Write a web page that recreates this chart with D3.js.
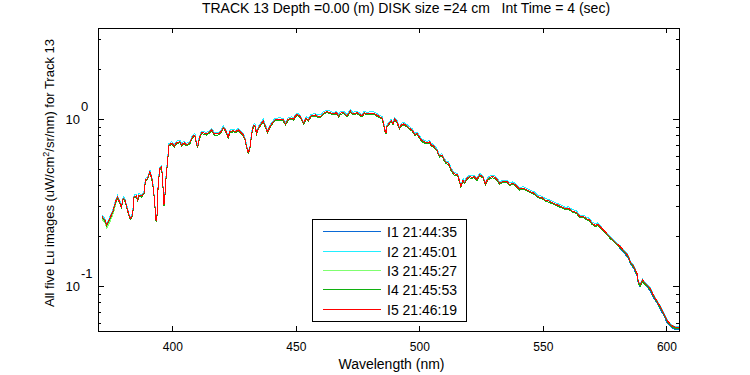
<!DOCTYPE html>
<html>
<head>
<meta charset="utf-8">
<script src="https://cdn.jsdelivr.net/npm/d3@7"></script>
<style>
  body { margin: 0; background: #fff; }
  svg { font-family: "Liberation Sans", Arial, sans-serif; }
  .axis path { display: none; }
  .axis line { stroke: #000; shape-rendering: crispEdges; }
  .axis text { font-size: 12px; fill: #000; }
  .spec { fill: none; stroke-width: 1; shape-rendering: crispEdges; }
</style>
</head>
<body>
<svg id="chart" width="750" height="375"></svg>
<script>
const wavelength = [
  371.6, 372.7, 373.4, 374.7, 376.1, 377.0, 377.8, 378.8, 379.4, 380.1, 380.8, 381.7,
  382.6, 383.1, 383.9, 384.5, 385.5, 385.9, 386.5, 387.5, 388.5, 389.1, 390.0, 390.9,
  391.3, 392.0, 392.7, 393.4, 393.8, 394.3, 395.0, 395.6, 396.0, 396.6, 397.0, 397.5,
  398.1, 398.6, 399.7, 400.8, 401.7, 403.1, 403.7, 404.8, 405.7, 407.1, 408.2, 409.1,
  409.6, 410.2, 410.9, 411.8, 413.2, 413.8, 415.2, 415.9, 417.0, 418.6, 419.7, 420.6,
  421.5, 422.6, 423.3, 424.7, 425.6, 426.7, 427.8, 428.7, 429.4, 430.0, 430.7, 431.4,
  432.1, 432.8, 433.4, 434.1, 434.8, 435.9, 436.8, 437.7, 438.5, 439.5, 440.4, 441.5,
  443.6, 444.9, 445.8, 446.9, 448.3, 449.1, 449.6, 450.5, 451.8, 453.1, 454.2, 455.1,
  456.1, 457.9, 458.8, 460.2, 461.2, 462.6, 463.9, 465.3, 466.4, 467.3, 468.0, 469.3,
  470.7, 472.0, 473.1, 474.7, 476.1, 476.8, 477.7, 478.8, 480.1, 481.5, 482.6, 483.9,
  484.9, 485.5, 486.1, 486.5, 486.9, 488.0, 488.6, 489.3, 490.0, 490.9, 491.9, 492.7,
  493.6, 495.0, 496.0, 497.0, 498.3, 499.0, 499.7, 500.8, 501.7, 503.1, 504.1, 504.8,
  505.7, 507.1, 508.1, 509.1, 510.1, 510.9, 511.8, 512.9, 514.1, 515.5, 516.3, 516.8,
  517.7, 518.2, 519.3, 520.3, 521.3, 522.2, 523.3, 524.4, 525.7, 526.7, 527.6, 528.7,
  529.6, 530.4, 531.4, 532.5, 533.8, 535.5, 536.5, 537.9, 539.2, 540.6, 542.0, 543.6,
  544.9, 546.5, 547.9, 549.6, 551.0, 552.3, 554.3, 556.4, 557.7, 559.1, 560.4, 561.8,
  563.5, 565.1, 566.5, 567.9, 568.9, 569.9, 571.2, 572.1, 573.2, 575.3, 577.3, 579.3,
  581.3, 583.4, 584.7, 585.4, 586.7, 588.1, 588.7, 589.4, 590.4, 591.0, 592.1, 593.5,
  594.8, 596.2, 597.5, 598.9, 600.2, 601.6, 602.9, 604.9
];

// I1
const lu1 = [
  0.260, 0.248, 0.232, 0.254, 0.285, 0.320, 0.340, 0.315, 0.298, 0.335, 0.327, 0.292,
  0.260, 0.254, 0.266, 0.343, 0.346, 0.324, 0.351, 0.346, 0.359, 0.431, 0.441, 0.484,
  0.462, 0.421, 0.335, 0.246, 0.266, 0.421, 0.507, 0.518, 0.451, 0.305, 0.351, 0.462,
  0.568, 0.699, 0.715, 0.689, 0.721, 0.731, 0.699, 0.721, 0.699, 0.721, 0.784, 0.802,
  0.731, 0.677, 0.766, 0.828, 0.821, 0.813, 0.839, 0.859, 0.813, 0.813, 0.839, 0.892,
  0.859, 0.777, 0.839, 0.851, 0.839, 0.859, 0.828, 0.802, 0.756, 0.689, 0.628, 0.668,
  0.821, 0.908, 0.921, 0.821, 0.880, 0.933, 0.977, 0.899, 0.839, 0.899, 0.942, 0.986,
  0.996, 0.986, 0.933, 0.996, 1.010, 0.996, 1.032, 1.065, 1.032, 0.942, 1.010, 0.986,
  1.042, 1.057, 1.032, 1.042, 1.082, 1.106, 1.091, 1.071, 1.091, 1.042, 1.082, 1.091,
  1.042, 1.117, 1.071, 1.091, 1.057, 1.042, 1.091, 1.071, 1.082, 1.082, 1.057, 1.032,
  1.010, 0.942, 0.851, 0.821, 0.908, 0.950, 0.977, 0.933, 0.996, 0.963, 0.880, 0.921,
  0.933, 0.908, 0.880, 0.859, 0.802, 0.821, 0.791, 0.749, 0.731, 0.721, 0.731, 0.699,
  0.689, 0.652, 0.600, 0.609, 0.568, 0.547, 0.543, 0.495, 0.469, 0.462, 0.421, 0.393,
  0.431, 0.415, 0.441, 0.451, 0.448, 0.451, 0.435, 0.462, 0.451, 0.408, 0.435, 0.448,
  0.451, 0.448, 0.435, 0.412, 0.421, 0.421, 0.406, 0.412, 0.399, 0.381, 0.385, 0.376,
  0.367, 0.359, 0.343, 0.338, 0.327, 0.323, 0.313, 0.303, 0.298, 0.289, 0.292, 0.281,
  0.276, 0.260, 0.260, 0.252, 0.249, 0.237, 0.230, 0.234, 0.227, 0.211, 0.195, 0.183,
  0.167, 0.154, 0.146, 0.135, 0.128, 0.115, 0.102, 0.0989, 0.106, 0.102, 0.0989, 0.0933,
  0.0851, 0.0789, 0.0729, 0.0665, 0.0607, 0.0572, 0.0554, 0.0546
];

// I2
const lu2 = [
  0.265, 0.253, 0.237, 0.259, 0.291, 0.326, 0.347, 0.321, 0.304, 0.342, 0.334, 0.298,
  0.265, 0.259, 0.271, 0.350, 0.353, 0.330, 0.358, 0.353, 0.366, 0.440, 0.450, 0.494,
  0.471, 0.429, 0.342, 0.251, 0.271, 0.429, 0.517, 0.528, 0.460, 0.311, 0.358, 0.471,
  0.579, 0.713, 0.729, 0.703, 0.735, 0.746, 0.713, 0.735, 0.713, 0.735, 0.800, 0.818,
  0.746, 0.691, 0.781, 0.845, 0.837, 0.829, 0.856, 0.876, 0.829, 0.829, 0.856, 0.910,
  0.876, 0.793, 0.856, 0.868, 0.856, 0.876, 0.845, 0.818, 0.771, 0.703, 0.641, 0.681,
  0.837, 0.926, 0.939, 0.837, 0.898, 0.952, 0.997, 0.917, 0.856, 0.917, 0.961, 1.006,
  1.016, 1.006, 0.952, 1.016, 1.030, 1.016, 1.053, 1.086, 1.053, 0.961, 1.030, 1.006,
  1.063, 1.078, 1.053, 1.063, 1.104, 1.128, 1.113, 1.092, 1.113, 1.063, 1.104, 1.113,
  1.063, 1.139, 1.092, 1.113, 1.078, 1.063, 1.113, 1.092, 1.104, 1.104, 1.078, 1.053,
  1.030, 0.961, 0.868, 0.837, 0.926, 0.969, 0.997, 0.952, 1.016, 0.982, 0.898, 0.939,
  0.952, 0.926, 0.898, 0.876, 0.818, 0.837, 0.807, 0.764, 0.746, 0.735, 0.746, 0.713,
  0.703, 0.665, 0.612, 0.621, 0.579, 0.558, 0.554, 0.505, 0.478, 0.471, 0.429, 0.401,
  0.440, 0.423, 0.450, 0.460, 0.457, 0.460, 0.444, 0.471, 0.460, 0.416, 0.444, 0.457,
  0.460, 0.457, 0.444, 0.420, 0.429, 0.429, 0.414, 0.420, 0.407, 0.389, 0.393, 0.384,
  0.374, 0.366, 0.350, 0.345, 0.334, 0.329, 0.319, 0.309, 0.304, 0.295, 0.298, 0.287,
  0.282, 0.265, 0.265, 0.257, 0.254, 0.242, 0.235, 0.239, 0.229, 0.213, 0.197, 0.185,
  0.174, 0.161, 0.152, 0.140, 0.133, 0.120, 0.106, 0.103, 0.110, 0.106, 0.103, 0.0972,
  0.0886, 0.0821, 0.0760, 0.0693, 0.0632, 0.0596, 0.0577, 0.0569
];

// I3
const lu3 = [
  0.250, 0.238, 0.222, 0.242, 0.272, 0.308, 0.340, 0.315, 0.298, 0.335, 0.327, 0.292,
  0.260, 0.254, 0.266, 0.343, 0.346, 0.324, 0.351, 0.346, 0.359, 0.431, 0.441, 0.484,
  0.462, 0.421, 0.335, 0.246, 0.266, 0.421, 0.507, 0.518, 0.451, 0.305, 0.351, 0.462,
  0.568, 0.699, 0.715, 0.689, 0.721, 0.731, 0.699, 0.721, 0.699, 0.721, 0.784, 0.802,
  0.731, 0.677, 0.766, 0.828, 0.821, 0.813, 0.839, 0.859, 0.813, 0.813, 0.839, 0.892,
  0.859, 0.777, 0.839, 0.851, 0.839, 0.859, 0.828, 0.802, 0.756, 0.689, 0.628, 0.668,
  0.821, 0.908, 0.921, 0.821, 0.880, 0.933, 0.977, 0.899, 0.839, 0.899, 0.942, 0.986,
  0.996, 0.986, 0.933, 0.996, 1.010, 0.996, 1.032, 1.065, 1.032, 0.942, 1.010, 0.986,
  1.042, 1.057, 1.032, 1.042, 1.082, 1.106, 1.091, 1.071, 1.091, 1.042, 1.082, 1.091,
  1.042, 1.117, 1.071, 1.091, 1.057, 1.042, 1.091, 1.071, 1.082, 1.082, 1.057, 1.032,
  1.010, 0.942, 0.851, 0.821, 0.908, 0.950, 0.977, 0.933, 0.996, 0.963, 0.880, 0.921,
  0.933, 0.908, 0.880, 0.859, 0.802, 0.821, 0.791, 0.749, 0.731, 0.721, 0.731, 0.699,
  0.689, 0.652, 0.600, 0.609, 0.568, 0.547, 0.543, 0.495, 0.469, 0.462, 0.421, 0.393,
  0.431, 0.415, 0.441, 0.451, 0.448, 0.451, 0.435, 0.462, 0.451, 0.408, 0.435, 0.448,
  0.451, 0.448, 0.435, 0.412, 0.421, 0.421, 0.406, 0.412, 0.399, 0.381, 0.385, 0.376,
  0.367, 0.359, 0.343, 0.338, 0.327, 0.323, 0.313, 0.303, 0.298, 0.289, 0.292, 0.281,
  0.276, 0.260, 0.260, 0.252, 0.249, 0.237, 0.230, 0.234, 0.227, 0.211, 0.195, 0.183,
  0.172, 0.159, 0.150, 0.139, 0.132, 0.119, 0.105, 0.102, 0.109, 0.105, 0.102, 0.0962,
  0.0877, 0.0813, 0.0752, 0.0686, 0.0626, 0.0590, 0.0571, 0.0563
];

// I4
const lu4 = [
  0.256, 0.244, 0.229, 0.250, 0.281, 0.315, 0.335, 0.310, 0.294, 0.330, 0.322, 0.288,
  0.256, 0.250, 0.262, 0.338, 0.341, 0.319, 0.346, 0.341, 0.354, 0.425, 0.434, 0.477,
  0.455, 0.415, 0.330, 0.242, 0.262, 0.415, 0.499, 0.510, 0.444, 0.300, 0.346, 0.455,
  0.559, 0.689, 0.704, 0.679, 0.710, 0.720, 0.689, 0.710, 0.689, 0.710, 0.772, 0.790,
  0.720, 0.667, 0.755, 0.816, 0.809, 0.801, 0.826, 0.846, 0.801, 0.801, 0.826, 0.879,
  0.846, 0.765, 0.826, 0.838, 0.826, 0.846, 0.816, 0.790, 0.745, 0.679, 0.619, 0.658,
  0.809, 0.894, 0.907, 0.809, 0.867, 0.919, 0.962, 0.886, 0.826, 0.886, 0.928, 0.971,
  0.981, 0.971, 0.919, 0.981, 0.995, 0.981, 1.017, 1.049, 1.017, 0.928, 0.995, 0.971,
  1.026, 1.041, 1.017, 1.026, 1.066, 1.089, 1.075, 1.055, 1.075, 1.026, 1.066, 1.075,
  1.026, 1.100, 1.055, 1.075, 1.041, 1.026, 1.075, 1.055, 1.066, 1.066, 1.041, 1.017,
  0.995, 0.928, 0.838, 0.809, 0.894, 0.936, 0.962, 0.919, 0.981, 0.949, 0.867, 0.907,
  0.919, 0.894, 0.867, 0.846, 0.790, 0.809, 0.779, 0.738, 0.720, 0.710, 0.720, 0.689,
  0.679, 0.642, 0.591, 0.600, 0.559, 0.539, 0.535, 0.488, 0.462, 0.455, 0.415, 0.387,
  0.425, 0.409, 0.434, 0.444, 0.441, 0.444, 0.428, 0.455, 0.444, 0.402, 0.428, 0.441,
  0.444, 0.441, 0.428, 0.406, 0.415, 0.415, 0.400, 0.406, 0.393, 0.375, 0.379, 0.370,
  0.361, 0.354, 0.338, 0.333, 0.322, 0.318, 0.308, 0.298, 0.294, 0.285, 0.288, 0.277,
  0.272, 0.256, 0.256, 0.248, 0.245, 0.233, 0.227, 0.230, 0.224, 0.208, 0.192, 0.180,
  0.169, 0.157, 0.148, 0.137, 0.130, 0.117, 0.103, 0.100, 0.107, 0.103, 0.100, 0.0948,
  0.0864, 0.0801, 0.0741, 0.0676, 0.0617, 0.0581, 0.0562, 0.0555
];

// I5
const lu5 = [
  0.260, 0.248, 0.232, 0.254, 0.285, 0.320, 0.340, 0.315, 0.298, 0.335, 0.327, 0.292,
  0.260, 0.254, 0.266, 0.343, 0.346, 0.324, 0.351, 0.346, 0.359, 0.431, 0.441, 0.484,
  0.462, 0.421, 0.335, 0.246, 0.266, 0.421, 0.507, 0.518, 0.451, 0.305, 0.351, 0.462,
  0.568, 0.699, 0.715, 0.689, 0.721, 0.731, 0.699, 0.721, 0.699, 0.721, 0.784, 0.802,
  0.731, 0.677, 0.766, 0.828, 0.821, 0.813, 0.839, 0.859, 0.813, 0.813, 0.839, 0.892,
  0.859, 0.777, 0.839, 0.851, 0.839, 0.859, 0.828, 0.802, 0.756, 0.689, 0.628, 0.668,
  0.821, 0.908, 0.921, 0.821, 0.880, 0.933, 0.977, 0.899, 0.839, 0.899, 0.942, 0.986,
  0.996, 0.986, 0.933, 0.996, 1.010, 0.996, 1.032, 1.065, 1.032, 0.942, 1.010, 0.986,
  1.042, 1.057, 1.032, 1.042, 1.082, 1.106, 1.091, 1.071, 1.091, 1.042, 1.082, 1.091,
  1.042, 1.117, 1.071, 1.091, 1.057, 1.042, 1.091, 1.071, 1.082, 1.082, 1.057, 1.032,
  1.010, 0.942, 0.851, 0.821, 0.908, 0.950, 0.977, 0.933, 0.996, 0.963, 0.880, 0.921,
  0.933, 0.908, 0.880, 0.859, 0.802, 0.821, 0.791, 0.749, 0.731, 0.721, 0.731, 0.699,
  0.689, 0.652, 0.600, 0.609, 0.568, 0.547, 0.543, 0.495, 0.469, 0.462, 0.421, 0.393,
  0.431, 0.415, 0.441, 0.451, 0.448, 0.451, 0.435, 0.462, 0.451, 0.408, 0.435, 0.448,
  0.451, 0.448, 0.435, 0.412, 0.421, 0.421, 0.406, 0.412, 0.399, 0.381, 0.385, 0.376,
  0.367, 0.359, 0.343, 0.338, 0.327, 0.323, 0.313, 0.303, 0.298, 0.289, 0.292, 0.281,
  0.276, 0.260, 0.260, 0.252, 0.249, 0.237, 0.230, 0.234, 0.227, 0.211, 0.195, 0.183,
  0.172, 0.159, 0.150, 0.139, 0.132, 0.119, 0.105, 0.102, 0.109, 0.105, 0.102, 0.0962,
  0.0877, 0.0813, 0.0752, 0.0686, 0.0626, 0.0590, 0.0571, 0.0563
];

const seriesNames = ['I1 21:44:35', 'I2 21:45:01', 'I3 21:45:27', 'I4 21:45:53', 'I5 21:46:19'];
const seriesColors = ['#0a6ad6', '#22eeff', '#80ff70', '#10b010', '#ff0000'];
const xTicks = [400, 450, 500, 550, 600];
const yMajorTicks = [0.1, 1];
const yMinorTicks = [0.06, 0.07, 0.08, 0.09, 0.2, 0.3, 0.4, 0.5, 0.6, 0.7, 0.8, 0.9, 2, 3];

const margin = {top: 28, right: 71, bottom: 44, left: 98},
    width = 750 - margin.left - margin.right,
    height = 375 - margin.top - margin.bottom;

const x = d3.scaleLinear()
  .domain([369.9, 605.1])
  .range([0, width]);

const y = d3.scaleLog()
  .domain([0.0538, 3.5])
  .range([height, 0]);

const svg = d3.select('#chart');

const chart = svg.append('g')
    .attr('transform', `translate(${margin.left},${margin.top})`);

const series = [lu1, lu2, lu3, lu4, lu5];

const line = d3.line()
  .x((d, i) => x(wavelength[i]))
  .y(d => y(d));

chart.append('defs').append('clipPath')
    .attr('id', 'plot-area')
  .append('rect')
    .attr('width', width)
    .attr('height', height);

chart.append('g')
    .attr('clip-path', 'url(#plot-area)')
  .selectAll('.spec')
    .data(series)
  .enter().append('path')
    .attr('class', 'spec')
    .attr('stroke', (d, i) => seriesColors[i])
    .attr('d', line);

// ticks on all four sides, pointing inward
chart.append('g')
    .attr('class', 'axis')
    .attr('transform', `translate(0,${height})`)
    .call(d3.axisBottom(x).tickValues(xTicks).tickSize(-5).tickPadding(11).tickFormat(d3.format('d')));

chart.append('g')
    .attr('class', 'axis')
    .call(d3.axisTop(x).tickValues(xTicks).tickSize(-5).tickFormat(''));

chart.append('g')
    .attr('class', 'axis')
    .call(d3.axisLeft(y).tickValues(yMajorTicks).tickSize(-6).tickFormat(''));

chart.append('g')
    .attr('class', 'axis')
    .call(d3.axisLeft(y).tickValues(yMinorTicks).tickSize(-3).tickFormat(''));

chart.append('g')
    .attr('class', 'axis')
    .attr('transform', `translate(${width},0)`)
    .call(d3.axisRight(y).tickValues(yMajorTicks).tickSize(-6).tickFormat(''));

chart.append('g')
    .attr('class', 'axis')
    .attr('transform', `translate(${width},0)`)
    .call(d3.axisRight(y).tickValues(yMinorTicks).tickSize(-3).tickFormat(''));

chart.append('rect')
    .attr('width', width)
    .attr('height', height)
    .attr('fill', 'none')
    .attr('stroke', '#000')
    .attr('shape-rendering', 'crispEdges');

const yLabels = chart.selectAll('.ylab')
    .data(yMajorTicks)
  .enter().append('g')
    .attr('class', 'ylab')
    .attr('transform', d => `translate(0,${y(d)})`)
    .style('font-size', '13px');

yLabels.append('text')
    .attr('x', -18)
    .attr('y', 5)
    .attr('text-anchor', 'end')
    .text('10');

yLabels.append('text')
    .attr('x', -17)
    .attr('y', -8)
    .text(d => String(Math.round(Math.log10(d))));

svg.append('text')
    .attr('x', 406)
    .attr('y', 13)
    .attr('text-anchor', 'middle')
    .style('font-size', '14px')
    .text('TRACK 13 Depth =0.00 (m) DISK size =24 cm   Int Time = 4 (sec)')
    .style('white-space', 'pre');

svg.append('text')
    .attr('x', 391.5)
    .attr('y', 368.5)
    .attr('text-anchor', 'middle')
    .style('font-size', '14px')
    .text('Wavelength (nm)');

const ylab = svg.append('text')
    .attr('transform', 'translate(54,173) rotate(-90)')
    .attr('text-anchor', 'middle')
    .style('font-size', '13px');
ylab.append('tspan').text('All five Lu images (uW/cm');
ylab.append('tspan').attr('dy', -5).style('font-size', '9px').text('2');
ylab.append('tspan').attr('dy', 5).text('/sr/nm) for Track 13');

const legend = svg.append('g')
    .attr('transform', 'translate(312.5,219.5)');

legend.append('rect')
    .attr('width', 154)
    .attr('height', 102)
    .attr('fill', '#fff')
    .attr('stroke', '#000')
    .attr('shape-rendering', 'crispEdges');

const items = legend.selectAll('.item')
    .data(seriesNames)
  .enter().append('g')
    .attr('class', 'item')
    .attr('transform', (d, i) => `translate(0,${12.4 + i * 19.3})`);

items.append('line')
    .attr('x1', 10)
    .attr('x2', 68.5)
    .attr('stroke', (d, i) => seriesColors[i])
    .attr('shape-rendering', 'crispEdges');

items.append('text')
    .attr('x', 74.5)
    .attr('y', 5.5)
    .style('font-size', '14px')
    .text(d => d);
</script>
</body>
</html>
